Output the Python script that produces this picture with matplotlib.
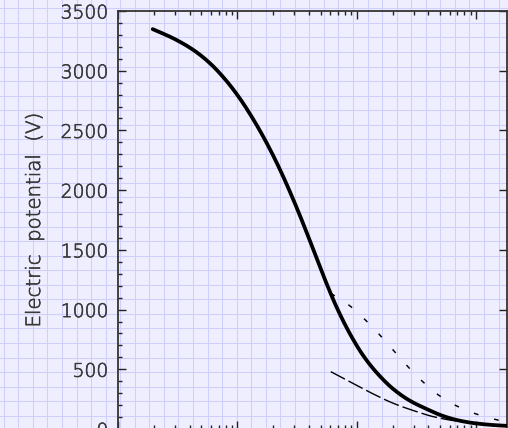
import numpy as np
import matplotlib
matplotlib.use("Agg")
import matplotlib.pyplot as plt
import matplotlib.patheffects as pe
from matplotlib.lines import Line2D
from matplotlib.ticker import MultipleLocator, LogLocator, NullFormatter

plt.rcParams["lines.scale_dashes"] = False
plt.rcParams["font.family"] = ["DejaVu Sans"]

# Potential profile: full solution and two asymptotic approximations
distance = [1.954, 2.908, 4.278, 5.904, 8.152, 10.54, 13.62, 17.64, 22.80,
            29.47, 36.95, 46.30, 56.16, 67.86, 88.06, 113.8, 147.4, 203.0,
            280.3, 386.9, 533.0, 735.7, 1016, 1494, 1858]
potential = [3348, 3271, 3174, 3062, 2912, 2765, 2592, 2394, 2171,
             1920, 1680, 1427, 1214, 1021, 795, 613, 471, 334,
             236, 167, 108, 69, 46, 31, 26]

far_distance = [60.7, 88.1, 120, 159, 210, 277, 370, 507, 726, 1067, 1592, 1800]
far_potential = [1136, 1030, 907, 779, 642, 508, 383, 271, 182, 117, 70, 57]

near_distance = [60.7, 91, 138, 203, 319, 440, 631, 1000]
near_potential = [480, 388, 293, 215, 145, 103, 72, 48]

y_ticks = [0, 500, 1000, 1500, 2000, 2500, 3000, 3500]


def smooth_curve(x, y, n=400):
    """Monotone cubic (PCHIP) curve through the points, in log-x space."""
    lx = np.log10(np.asarray(x, float))
    y = np.asarray(y, float)
    h = np.diff(lx)
    d = np.diff(y) / h
    m = np.zeros_like(y)
    for k in range(1, len(y) - 1):
        if d[k - 1] * d[k] > 0:
            w1 = 2 * h[k] + h[k - 1]
            w2 = h[k] + 2 * h[k - 1]
            m[k] = (w1 + w2) / (w1 / d[k - 1] + w2 / d[k])
    m[0], m[-1] = d[0], d[-1]
    t = np.linspace(lx[0], lx[-1], n)
    idx = np.clip(np.searchsorted(lx, t) - 1, 0, len(h) - 1)
    s = (t - lx[idx]) / h[idx]
    h00 = 2 * s**3 - 3 * s**2 + 1
    h10 = s**3 - 2 * s**2 + s
    h01 = -2 * s**3 + 3 * s**2
    h11 = s**3 - s**2
    yy = (h00 * y[idx] + h10 * h[idx] * m[idx]
          + h01 * y[idx + 1] + h11 * h[idx] * m[idx + 1])
    return 10 ** t, yy


W, H = 508, 428
fig = plt.figure(figsize=(W / 100, H / 100), dpi=100, facecolor="#eeeeff")

# graph-paper background
step = 14.55
grid_color = "#cfcffb"
gx = 3.8
while gx < W:
    fig.add_artist(Line2D([gx / W, gx / W], [0, 1], transform=fig.transFigure,
                          color=grid_color, lw=0.75, zorder=0))
    gx += step
gy = 8.3
while gy < H:
    fy = (H - gy) / H
    fig.add_artist(Line2D([0, 1], [fy, fy], transform=fig.transFigure,
                          color=grid_color, lw=0.75, zorder=0))
    gy += step

left, right, top, bottom = 118, 507, 11, 429
ax = fig.add_axes([left / W, (H - bottom) / H, (right - left) / W, (bottom - top) / H])
ax.set_facecolor("none")

sx, sy = smooth_curve(distance, potential)
ax.plot(sx, sy, color="black", lw=2.7, solid_capstyle="round", zorder=5)
fx, fy_ = smooth_curve(far_distance, far_potential)
ax.plot(fx, fy_, color="black", lw=1.05, dashes=(3.4, 11.7), zorder=4)
nx, ny = smooth_curve(near_distance, near_potential)
ax.plot(nx, ny, color="black", lw=1.0, dashes=(11.5, 2.9), zorder=4)

ax.set_xscale("log")
ax.set_xlim(1, 10 ** 3.26)
ax.set_ylim(0, 3500)

ax.set_yticks(y_ticks)
ax.yaxis.set_minor_locator(MultipleLocator(100))
ax.xaxis.set_major_locator(LogLocator(base=10))
ax.xaxis.set_minor_locator(LogLocator(base=10, subs=np.arange(2, 10)))
ax.xaxis.set_minor_formatter(NullFormatter())

spine_color = "#333333"
for s in ax.spines.values():
    s.set_color(spine_color)
    s.set_linewidth(1.3)

text_color = "#383838"
thin_stroke = [pe.withStroke(linewidth=0.45, foreground=text_color)]

ax.tick_params(axis="both", which="both", direction="in", colors="#222222",
               top=True, bottom=True, left=True, right=True)
ax.tick_params(axis="both", which="major", length=6, width=1.0)
ax.tick_params(axis="both", which="minor", length=3, width=1.0)
ax.tick_params(axis="y", which="minor", right=False)
ax.tick_params(axis="x", labelbottom=False, labeltop=False)
ax.tick_params(axis="y", labelleft=True, labelright=False, labelsize=13.5,
               labelcolor=text_color, pad=7)
for lab in ax.get_yticklabels():
    lab.set_fontweight("light")
    lab.set_path_effects(thin_stroke)

ylab = ax.set_ylabel("Electric  potential  (V)", fontsize=14.2, color=text_color,
                     fontweight="light")
ylab.set_path_effects(thin_stroke)
ax.yaxis.set_label_coords((44 - left) / (right - left), 0.5)

fig.savefig("out.png", dpi=100, facecolor=fig.get_facecolor())
